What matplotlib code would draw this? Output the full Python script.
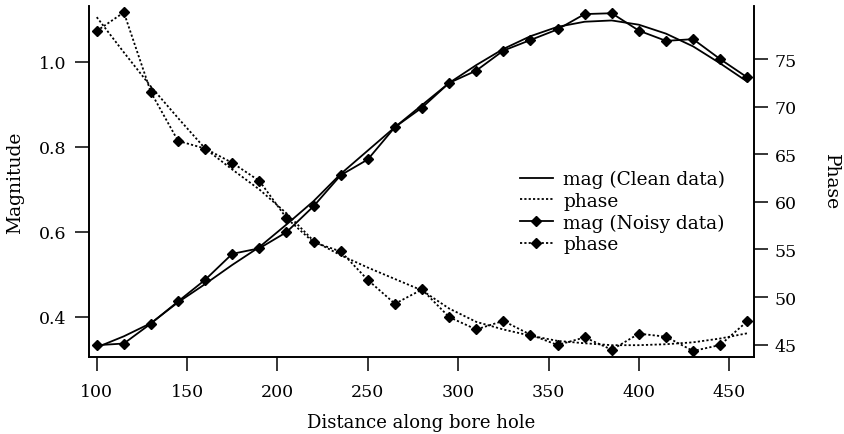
import matplotlib
matplotlib.use("Agg")
import matplotlib.pyplot as plt

# Distance along the bore hole (sample positions)
distance = [100, 115, 130, 145, 160, 175, 190, 205, 220, 235, 250, 265, 280,
            295, 310, 325, 340, 355, 370, 385, 400, 415, 430, 445, 460]

# Clean model response
mag_clean = [0.328, 0.354, 0.385, 0.434, 0.477, 0.522, 0.564, 0.617, 0.672,
             0.736, 0.791, 0.846, 0.898, 0.950, 0.992, 1.030, 1.060, 1.082,
             1.094, 1.097, 1.087, 1.066, 1.036, 0.996, 0.953]
phase_clean = [79.4, 75.7, 72.1, 68.8, 65.6, 63.4, 61.3, 58.8, 55.9, 54.4,
               53.1, 51.9, 50.7, 48.8, 47.4, 46.6, 45.95, 45.4, 45.15, 44.95,
               44.95, 45.05, 45.25, 45.65, 46.2]

# Noisy measurements
mag_noisy = [0.333, 0.337, 0.384, 0.436, 0.487, 0.548, 0.561, 0.599, 0.660,
             0.733, 0.770, 0.846, 0.892, 0.950, 0.979, 1.026, 1.051, 1.076,
             1.112, 1.114, 1.073, 1.049, 1.053, 1.006, 0.963]
phase_noisy = [77.95, 79.9, 71.5, 66.4, 65.6, 64.1, 62.2, 58.3, 55.75, 54.8,
               51.8, 49.3, 50.8, 47.9, 46.6, 47.5, 46.05, 44.97, 45.77, 44.47,
               46.16, 45.84, 44.34, 44.97, 47.46]

x_ticks = [100, 150, 200, 250, 300, 350, 400, 450]
mag_ticks = [0.4, 0.6, 0.8, 1.0]
phase_ticks = [45, 50, 55, 60, 65, 70, 75]

plt.rcParams["font.family"] = ["DejaVu Serif"]
plt.rcParams["font.size"] = 12.5

fig = plt.figure(figsize=(8.45, 4.35), dpi=100)
ax = fig.add_axes([0.1053, 0.1777, 0.787, 0.8062])
ax2 = ax.twinx()

dotted = (0, (1.2, 1.2))
l1, = ax.plot(distance, mag_clean, color="black", lw=1.3, label="mag (Clean data)")
l2, = ax2.plot(distance, phase_clean, color="black", lw=1.3, ls=dotted, label="phase")
l3, = ax.plot(distance, mag_noisy, color="black", lw=1.3, marker="D", ms=4.8,
              label="mag (Noisy data)")
l4, = ax2.plot(distance, phase_noisy, color="black", lw=1.3, ls=dotted, marker="D",
               ms=4.8, label="phase")

ax.set_xlim(95.7, 463.7)
ax.set_ylim(0.306, 1.131)
ax2.set_ylim(43.74, 80.57)

ax.set_xticks(x_ticks)
ax.set_yticks(mag_ticks)
ax.set_yticklabels([f"{v:.1f}" for v in mag_ticks])
ax2.set_yticks(phase_ticks)

for a in (ax, ax2):
    a.spines["top"].set_visible(False)
    for s in ("left", "right", "bottom"):
        a.spines[s].set_linewidth(1.2)
    a.tick_params(direction="out", length=10, width=1.1, labelsize=12.5)
ax.tick_params(axis="x", pad=9)
ax.tick_params(axis="y", pad=6)
ax2.tick_params(axis="y", pad=5)

ax.set_xlabel("Distance along bore hole", fontsize=13, labelpad=9)
ax.set_ylabel("Magnitude", fontsize=13.5, labelpad=11)
ax2.set_ylabel("Phase", fontsize=13.5, rotation=-90, labelpad=31)

ax.legend(handles=[l1, l2, l3, l4], loc="upper left",
          bbox_to_anchor=(0.648, 0.532), frameon=False, fontsize=13.4,
          handlelength=1.77, handletextpad=0.55, labelspacing=0.19,
          borderpad=0, borderaxespad=0)

fig.savefig("out.png", dpi=100)
